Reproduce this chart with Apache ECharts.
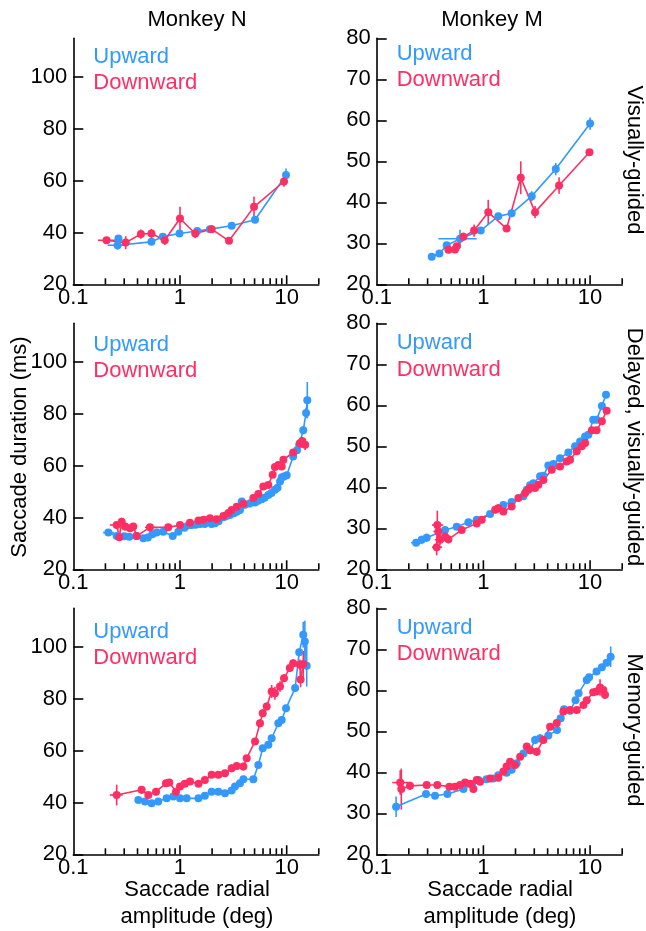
<!DOCTYPE html>
<html><head><meta charset="utf-8">
<script src="https://cdn.jsdelivr.net/npm/echarts@6/dist/echarts.min.js"></script>
<style>html,body{margin:0;padding:0;background:#fff}#c{width:646px;height:931px}</style>
</head><body><div id="c"></div>
<script>
const BLUE = '#3399FF', RED = '#FF2E63';
const FONT = '"Liberation Sans", Arial, Helvetica, sans-serif';

// Tick labels / tick values
const X_TICK_LABELS = [0.1, 1, 10];
const X_MAJOR_TICKS = [1, 10];
const X_MINOR_TICKS = [0.2,0.3,0.4,0.5,0.6,0.7,0.8,0.9,2,3,4,5,6,7,8,9,20];
const Y_TICKS_N = [20, 40, 60, 80, 100];
const Y_TICKS_M = [20, 30, 40, 50, 60, 70, 80];
const COLUMN_TITLES = ['Monkey N', 'Monkey M'];
const ROW_TITLES = ['Visually-guided', 'Delayed, visually-guided', 'Memory-guided'];
const LEGEND = ['Upward', 'Downward'];
const Y_TITLE = 'Saccade duration (ms)';
const X_TITLE = ['Saccade radial', 'amplitude (deg)'];

// Data: [amplitude, duration, yErr, (xLow, xHigh)]
const N_VG_UP = [[0.265,37.7,1],[0.26,35.1,1.8,0.21,0.32],[0.54,36.4,0.8],[0.69,38.4,0.8],[0.99,39.6,0.8],[1.45,40.6,0.8],[1.91,41.3,0.8],[3.05,42.6,0.8],[5.05,44.9,0.8],[9.86,62.2,2.5]];
const N_VG_DOWN = [[0.205,37.0,0.5,0.17,0.25],[0.31,36.1,2.5],[0.43,39.4,1.8],[0.54,39.6,1.8],[0.72,37.0,1.8],[1.0,45.4,4.5],[1.39,39.6,1.8],[1.98,41.3,1.5],[2.88,36.8,0.6],[4.94,49.9,4],[9.44,59.7,2]];
const M_VG_UP = [[0.328,26.7,0.5],[0.387,27.5,0.6],[0.453,29.5,0.6],[0.604,31.1,2.2,0.379,0.866],[0.944,33.1,0.6],[1.38,36.6,0.8],[1.84,37.3,0.8],[2.84,41.5,1.2],[4.77,48.1,1.5],[10.0,59.2,1.5]];
const M_VG_DOWN = [[0.47,28.4,0.6],[0.542,28.5,0.6],[0.5625,29.3,0.8],[0.65,31.6,1.0],[0.818,33.1,1.5],[1.11,37.6,3],[1.65,33.6,0.6],[2.24,46.0,4],[3.05,37.6,1.5],[5.12,44.1,2],[9.86,52.2,0.4]];

const N_DVG_UP = [[0.213,34.2,1.2,0.19,0.24],[0.255,32.9,0.8],[0.3,32.8,0.6],[0.335,32.6,0.8],[0.39,32.9,0.6],[0.453,32.0,0.8],[0.5,32.3,0.6],[0.55,33.5,0.6],[0.605,34.2,0.6],[0.698,34.5,0.6],[0.855,32.9,0.6],[0.964,34.5,0.6],[1.1,36.0,0.6],[1.2,37.0,0.6],[1.29,37.1,0.6],[1.4,37.2,0.6],[1.54,37.5,0.6],[1.7,37.5,0.6],[1.98,37.5,0.6],[2.13,37.8,0.6],[2.3,38.6,0.6],[2.55,40.1,0.6],[2.7,40.5,0.6],[2.94,41.0,0.6],[3.2,41.6,0.6],[3.4,42.2,0.6],[3.65,42.9,0.6],[3.79,46.2,1],[4.06,44.9,0.6],[4.5,45.4,0.6],[5.05,45.8,0.6],[5.4,46.5,0.6],[5.83,47.1,0.6],[6.2,47.6,0.6],[6.73,48.7,0.6],[7.2,49.5,0.6],[7.76,50.7,0.6],[8.2,51.5,0.6],[8.66,53.9,0.8],[9.0,55.5,0.8],[9.44,55.8,0.8],[10.0,56.3,0.8],[11.5,63.6,1],[12.5,66.0,1],[13.1,68.1,1],[14.3,73.7,1.5],[15.2,80.4,2],[15.6,85.3,7]];
const N_DVG_DOWN = [[0.255,37.1,0.8,0.22,0.3],[0.27,32.4,1.5,0.24,0.31],[0.284,38.4,1.5],[0.306,36.5,1.5],[0.34,35.9,1],[0.365,36.5,1],[0.393,32.9,0.8,0.35,0.45],[0.523,36.2,1.2,0.47,0.58],[0.776,36.2,0.6],[1.0,37.1,0.6],[1.24,38.0,0.6],[1.49,38.8,0.6],[1.66,39.1,0.6],[1.91,39.7,0.6],[2.21,39.3,0.6],[2.55,40.6,0.6],[2.84,41.7,0.6],[3.05,42.9,0.6],[3.40,44.2,0.6],[3.93,45.3,0.6],[4.87,47.5,0.6],[5.42,49.1,0.6],[6.04,52.0,0.6],[6.73,52.6,0.6],[7.39,56.5,0.8],[7.76,59.5,0.8],[8.35,60.3,0.8],[8.98,59.7,0.8],[9.31,62.3,0.8],[11.5,65.1,0.8],[13.3,68.7,1.5],[14.0,69.5,1.5],[14.9,68.1,2]];
const M_DVG_UP = [[0.234,26.5,0.8,0.21,0.26],[0.264,27.2,1],[0.294,27.7,1],[0.437,29.6,0.6],[0.562,30.4,0.6],[0.723,31.5,0.5],[0.866,32.1,0.5],[1.155,33.5,0.5],[1.54,35.7,0.5],[1.84,36.4,0.5],[2.37,37.8,0.5],[2.55,39.4,0.6],[2.74,40.5,0.6],[2.94,41.0,0.6],[3.40,42.7,0.6],[3.65,42.8,0.6],[4.06,45.3,0.6],[4.53,45.7,0.6],[5.23,47.1,0.6],[6.26,48.5,0.6],[7.23,50.0,0.6],[8.06,51.2,0.6],[8.98,52.4,0.6],[9.64,52.8,0.6],[10.7,56.5,0.8],[11.5,56.5,0.8],[12.9,59.8,0.8],[14.1,62.6,0.8]];
const M_DVG_DOWN = [[0.365,25.4,2,0.33,0.41],[0.37,30.8,3.5,0.33,0.42],[0.378,29.2,1.5,0.34,0.43],[0.393,27.2,1.2,0.35,0.45],[0.437,28.0,1.2],[0.47,27.3,1],[0.626,29.6,0.6],[0.866,31.2,0.5],[0.965,32.1,0.5],[1.29,34.5,0.8],[1.38,34.9,1],[1.54,34.1,0.5],[1.84,35.3,0.5],[2.13,37.4,0.5],[2.46,38.6,0.5],[2.64,39.4,0.6],[2.74,39.8,0.6],[3.05,39.8,0.6],[3.28,40.6,0.6],[3.65,41.8,0.6],[4.37,44.3,0.6],[5.23,45.1,0.6],[6.04,46.3,0.6],[6.49,46.7,0.6],[7.5,48.8,0.6],[8.35,50.0,0.6],[8.98,50.8,0.6],[10.4,53.9,0.6],[11.5,53.9,0.6],[12.9,56.1,0.8],[14.3,58.7,0.8]];

const N_MG_UP = [[0.407,41.0,0.6],[0.47,40.4,0.6],[0.542,39.7,0.6],[0.626,40.4,0.6],[0.75,41.6,0.6],[0.866,42.3,0.6],[1.0,41.6,0.6],[1.155,41.6,0.6],[1.49,41.6,0.6],[1.71,42.6,0.6],[1.98,44.2,0.6],[2.29,44.2,0.6],[2.64,43.6,0.6],[3.05,44.6,0.6],[3.28,46.2,0.8],[3.65,47.4,0.8],[3.93,49.0,0.8],[4.87,49.0,0.8],[5.42,54.5,1],[5.96,61.0,1.2],[6.73,62.3,1.2],[7.23,64.8,1.2],[8.35,70.6,1.2],[8.98,71.9,1.2],[9.86,76.4,1.2],[12.0,84.2,1.2],[13.1,98.0,1.5],[14.3,104.8,5],[14.8,102.2,8],[15.4,92.8,8]];
const N_MG_DOWN = [[0.255,42.9,4,0.22,0.29],[0.437,44.9,1.5],[0.505,42.9,1],[0.596,44.2,0.8],[0.739,47.4,1],[0.794,47.7,1],[0.917,44.2,0.8],[1.0,46.2,0.8],[1.11,47.2,0.8],[1.24,48.1,0.8],[1.49,47.2,0.8],[1.71,48.7,0.8],[1.98,50.7,0.8],[2.29,50.7,0.8],[2.64,51.3,0.8],[3.05,53.2,1.5],[3.40,54.1,1.5],[3.93,53.9,1.5],[4.22,57.1,1],[5.05,63.6,1],[5.62,70.6,1.5],[5.96,74.5,1.5],[6.49,77.1,1.5],[7.23,82.9,2.5],[7.76,82.2,2.5],[8.66,84.8,2],[9.44,88.0,1.5],[10.7,91.9,1.5],[11.5,93.8,1.5],[13.3,93.2,2],[13.5,87.5,3],[14.3,93.5,5]];
const M_MG_UP = [[0.152,31.6,2.5,0.14,0.165],[0.29,34.7,0.8],[0.352,34.3,0.6],[0.46,34.7,0.6],[0.65,35.9,0.6],[0.778,37.1,0.6],[0.898,38.1,0.6],[1.07,38.3,0.6],[1.24,38.5,0.6],[1.38,39.3,0.6],[1.65,39.9,0.6],[1.84,40.6,0.6],[2.05,42.2,0.6],[2.37,44.6,0.6],[2.74,45.4,0.6],[3.05,47.9,1],[3.40,48.3,1],[4.06,49.0,0.6],[4.9,50.3,0.6],[5.3,53.2,0.6],[5.7,55.4,0.6],[6.5,55.0,0.6],[7.3,57.6,0.8],[7.8,59.3,0.8],[9.3,62.5,0.8],[9.8,63.2,0.8],[11.5,64.6,0.8],[12.9,65.6,0.8],[14.3,66.7,0.8],[15.6,68.2,2.5]];
const M_MG_DOWN = [[0.166,37.5,3,0.14,0.2],[0.17,35.9,5],[0.205,36.7,1],[0.294,36.9,0.6],[0.37,36.9,0.6],[0.48,36.5,0.6],[0.542,36.5,0.6],[0.604,36.9,0.6],[0.673,37.5,0.6],[0.75,37.2,0.6],[0.806,35.9,0.6],[0.866,38.1,0.6],[0.931,37.7,0.6],[1.155,38.5,0.6],[1.38,38.7,0.6],[1.54,40.2,0.6],[1.65,41.4,0.6],[1.78,42.6,0.8],[1.98,41.8,0.8],[2.21,43.8,0.8],[2.55,46.3,0.8],[2.74,45.4,0.8],[3.16,45.0,1],[3.65,47.9,0.8],[4.22,51.1,0.6],[4.87,52.0,0.6],[5.62,54.8,0.6],[6.49,55.2,0.6],[7.5,55.2,0.6],[8.66,56.4,0.6],[9.31,57.6,0.6],[10.7,59.5,0.6],[11.5,59.7,0.6],[12.4,60.7,2],[13.3,60.1,1],[13.8,58.9,1]];

const PANELS = [
  {row:0,col:0,up:N_VG_UP,down:N_VG_DOWN,yMax:115,yInt:20,yTicks:Y_TICKS_N,leg:[19,45]},
  {row:0,col:1,up:M_VG_UP,down:M_VG_DOWN,yMax:80,yInt:10,yTicks:Y_TICKS_M,leg:[16,42]},
  {row:1,col:0,up:N_DVG_UP,down:N_DVG_DOWN,yMax:115,yInt:20,yTicks:Y_TICKS_N,leg:[22,48]},
  {row:1,col:1,up:M_DVG_UP,down:M_DVG_DOWN,yMax:80,yInt:10,yTicks:Y_TICKS_M,leg:[20,47]},
  {row:2,col:0,up:N_MG_UP,down:N_MG_DOWN,yMax:115,yInt:20,yTicks:Y_TICKS_N,leg:[24,50]},
  {row:2,col:1,up:M_MG_UP,down:M_MG_DOWN,yMax:80,yInt:10,yTicks:Y_TICKS_M,leg:[20,46]}
];

const COL_LEFT = [73.3, 376.7];
const ROW_TOP = [38.3, 323.3, 608.3];
const GRID_W = 245.5, GRID_H = 246;

const grids = [], xAxes = [], yAxes = [], series = [], graphics = [];

function errData(arr){
  return arr.map(d => [d[0], d[1], d[2], d.length > 3 ? d[3] : d[0], d.length > 4 ? d[4] : d[0]]);
}
function errRender(color){
  return function(params, api){
    const x = api.value(0), y = api.value(1), e = api.value(2), xl = api.value(3), xh = api.value(4);
    const a = api.coord([x, y - e]), b = api.coord([x, y + e]);
    const c = api.coord([xl, y]), d = api.coord([xh, y]);
    return {type:'group', children:[
      {type:'line', shape:{x1:a[0],y1:a[1],x2:b[0],y2:b[1]}, style:{stroke:color,lineWidth:1.6}},
      {type:'line', shape:{x1:c[0],y1:c[1],x2:d[0],y2:d[1]}, style:{stroke:color,lineWidth:1.6}}
    ]};
  };
}
const TICK_DATA = X_MAJOR_TICKS.map(v => [v, 20, 1]).concat(X_MINOR_TICKS.map(v => [v, 20, 0]));

PANELS.forEach((p, i) => {
  const left = COL_LEFT[p.col], top = ROW_TOP[p.row];
  grids.push({left:left, top:top, width:GRID_W, height:GRID_H, containLabel:false});
  xAxes.push({
    type:'log', logBase:10, gridIndex:i, min:0.1, max:20,
    axisLine:{show:true, onZero:false, lineStyle:{color:'#000', width:1.6}},
    axisTick:{show:false}, minorTick:{show:false}, splitLine:{show:false}, minorSplitLine:{show:false},
    axisLabel:{
      margin:3, color:'#000', fontSize:22, fontFamily:FONT,
      formatter: v => { const t = X_TICK_LABELS.find(t => Math.abs(Math.log10(v) - Math.log10(t)) < 1e-6); return t === undefined ? '' : String(t); }
    }
  });
  yAxes.push({
    type:'value', gridIndex:i, min:20, max:p.yMax, interval:p.yInt,
    axisLine:{show:true, onZero:false, lineStyle:{color:'#000', width:1.6}},
    axisTick:{show:true, inside:true, length:10, lineStyle:{color:'#000', width:1.6}, customValues:p.yTicks},
    splitLine:{show:false},
    axisLabel:{margin:6, color:'#000', fontSize:22, fontFamily:FONT, customValues:p.yTicks,
      formatter: v => p.yTicks.indexOf(v) >= 0 ? String(v) : ''}
  });
  // x ticks (inward)
  series.push({
    type:'custom', xAxisIndex:i, yAxisIndex:i, data:TICK_DATA, silent:true, encode:{x:0,y:1},
    renderItem:(params, api) => {
      const pt = api.coord([api.value(0), api.value(1)]);
      const len = api.value(2) ? 9 : 6;
      return {type:'line', shape:{x1:pt[0],y1:pt[1],x2:pt[0],y2:pt[1]-len}, style:{stroke:'#000',lineWidth:1.6}};
    }
  });
  [[p.up, BLUE], [p.down, RED]].forEach(([arr, color]) => {
    series.push({
      type:'custom', xAxisIndex:i, yAxisIndex:i, data:errData(arr), silent:true,
      encode:{x:0,y:1}, renderItem:errRender(color), z:3
    });
    series.push({
      type:'line', xAxisIndex:i, yAxisIndex:i, data:arr.map(d => [d[0], d[1]]),
      symbol:'circle', symbolSize:8, showSymbol:true, silent:true,
      lineStyle:{color:color, width:1.6}, itemStyle:{color:color}, z:4
    });
  });
  graphics.push({type:'text', x:left + 20, y:top + p.leg[0], style:{text:LEGEND[0], fill:BLUE, font:'22px ' + FONT, textAlign:'left', textVerticalAlign:'middle'}});
  graphics.push({type:'text', x:left + 20, y:top + p.leg[1], style:{text:LEGEND[1], fill:RED, font:'22px ' + FONT, textAlign:'left', textVerticalAlign:'middle'}});
});

// column titles
graphics.push({type:'text', x:197, y:20, style:{text:COLUMN_TITLES[0], fill:'#000', font:'22px ' + FONT, textAlign:'center', textVerticalAlign:'middle'}});
graphics.push({type:'text', x:492, y:20, style:{text:COLUMN_TITLES[1], fill:'#000', font:'22px ' + FONT, textAlign:'center', textVerticalAlign:'middle'}});
// row titles (rotated)
const ROW_CENTER_Y = [160, 447, 730];
ROW_TITLES.forEach((t, r) => {
  graphics.push({type:'text', x:634, y:ROW_CENTER_Y[r], rotation:-Math.PI/2,
    style:{text:t, fill:'#000', font:'22px ' + FONT, textAlign:'center', textVerticalAlign:'middle'}});
});
// y title
graphics.push({type:'text', x:20, y:447, rotation:Math.PI/2,
  style:{text:Y_TITLE, fill:'#000', font:'22px ' + FONT, textAlign:'center', textVerticalAlign:'middle'}});
// x titles
[197, 500].forEach(cx => {
  graphics.push({type:'text', x:cx, y:890, style:{text:X_TITLE[0], fill:'#000', font:'22px ' + FONT, textAlign:'center', textVerticalAlign:'middle'}});
  graphics.push({type:'text', x:cx, y:917, style:{text:X_TITLE[1], fill:'#000', font:'22px ' + FONT, textAlign:'center', textVerticalAlign:'middle'}});
});

const chart = echarts.init(document.getElementById('c'), null, {renderer:'canvas'});
chart.setOption({
  animation:false, backgroundColor:'#fff',
  grid:grids, xAxis:xAxes, yAxis:yAxes, series:series, graphic:graphics
});
</script></body></html>
